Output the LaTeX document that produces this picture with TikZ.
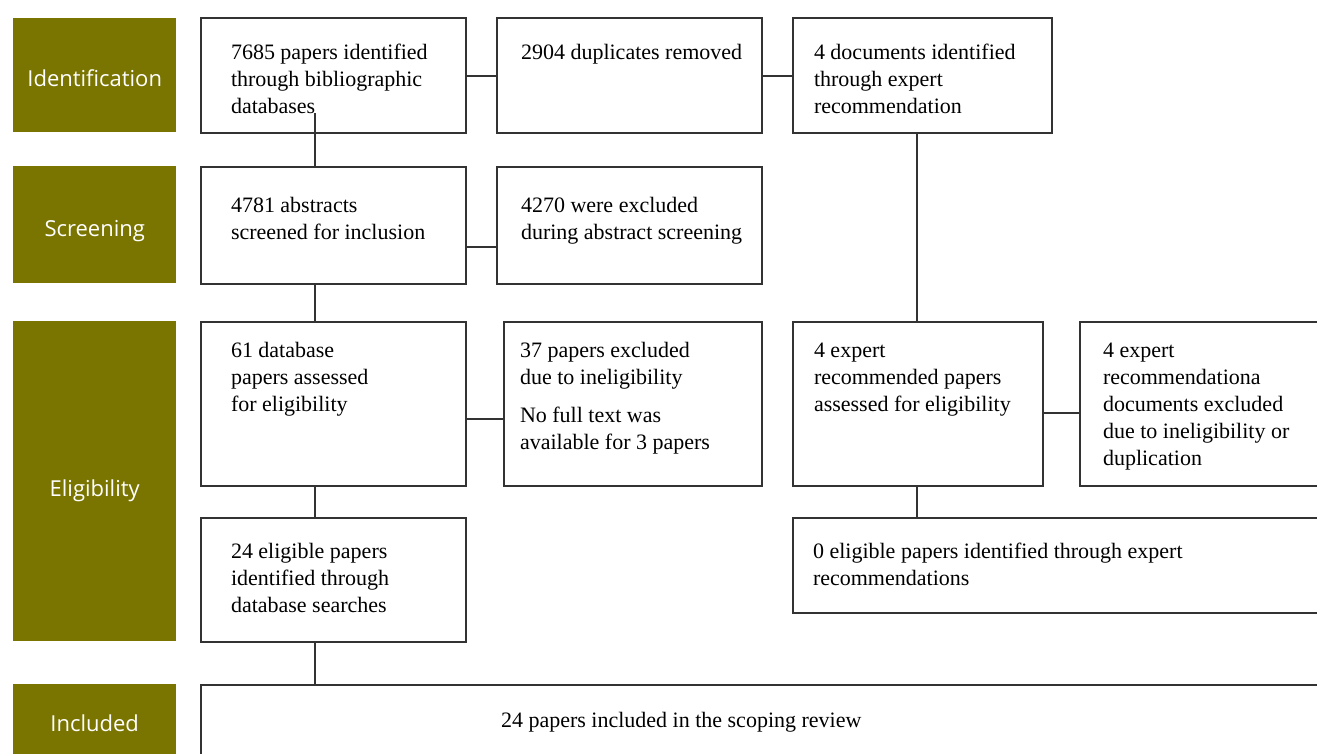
\documentclass[tikz,border=0pt]{standalone}
\usepackage{fontspec}
\setmainfont{Liberation Serif}
\newfontfamily\stagefont{Open Sans}
\definecolor{stagegreen}{RGB}{122,117,0}
\definecolor{linegray}{RGB}{51,51,51}
\newcommand{\boxtext}[5]{\hspace*{#3pt}\parbox[t][#2pt][t]{\dimexpr#1pt-#3pt\relax}{\raggedright\rule{0pt}{#4pt}#5}}
\begin{document}
\begin{tikzpicture}[x=1pt,y=-1pt]

    \tikzset{
      stage/.style={
        fill=stagegreen,
        text=white,
        anchor=north west,
        inner sep=0pt,
        minimum width=163pt,
        font=\stagefont\fontsize{22}{26}\selectfont,
      },
      flowbox/.style={
        draw=linegray,
        line width=2pt,
        anchor=north west,
        inner sep=0pt,
        font=\fontsize{22}{27}\selectfont,
      },
      link/.style={draw=linegray,line width=2pt},
    }
    \useasboundingbox (0,0) rectangle (1317,753);
    \clip (0,0) rectangle (1317,753);

	\node[stage,minimum height=114pt,text height=22pt] (ident) at (13,18) {Identification};
	\node[stage,minimum height=117pt,text height=28pt] (screen) at (13,166) {Screening};
	\node[stage,minimum height=320pt,text height=36pt] (elig) at (13,321) {Eligibility};
	\node[stage,minimum height=78pt] (incl) at (13,684) {Included};

	\node[flowbox] (found) at (200,17) {\boxtext{265}{115}{30}{41}{7685 papers identified\\through bibliographic\\databases}};
	\node[flowbox] (dupl) at (496,17) {\boxtext{265}{115}{24}{41}{2904 duplicates removed}};
	\node[flowbox] (expdocs) at (792,17) {\boxtext{259}{115}{21}{41}{4 documents identified\\through expert\\recommendation}};
	\node[flowbox] (abstr) at (200,166) {\boxtext{265}{117}{30}{45}{4781 abstracts\\screened for inclusion}};
	\node[flowbox] (abexcl) at (496,166) {\boxtext{265}{117}{24}{45}{4270 were excluded\\during abstract screening}};
	\node[flowbox] (dbassess) at (200,321) {\boxtext{265}{164}{30}{35}{61 database\\papers assessed\\for eligibility}};
	\node[flowbox] (dbexcl) at (503,321) {\boxtext{258}{164}{16}{35}{37 papers excluded\\due to ineligibility\par\vspace{11pt}No full text was\\available for 3 papers}};
	\node[flowbox] (expassess) at (792,321) {\boxtext{250}{164}{21}{35}{4 expert\\recommended papers\\assessed for eligibility}};
	\node[flowbox] (expexcl) at (1079,321) {\boxtext{260}{164}{23}{35}{4 expert\\recommendationa\\documents excluded\\due to ineligibility or\\duplication}};
	\node[flowbox] (dbelig) at (200,517) {\boxtext{265}{124}{30}{40}{24 eligible papers\\identified through\\database searches}};
	\node[flowbox] (expelig) at (792,517) {\boxtext{560}{95}{20}{40}{0 eligible papers identified through expert\\recommendations}};
	\node[flowbox] (final) at (200,684) {\boxtext{1150}{90}{300}{42}{24 papers included in the scoping review}};

	\coordinate (left) at (315,0);
	\coordinate (right) at (917,0);
	\coordinate (start) at (315,113);

	\draw[link] (found.east) -- (dupl.west);
	\draw[link] (dupl.east) -- (expdocs.west);
	\draw[link] (start) -- (abstr.north -| left);
	\draw[link] ([yshift=-21.5pt]abstr.east) -- ([yshift=-21.5pt]abexcl.west);
	\draw[link] (abstr.south -| left) -- (dbassess.north -| left);
	\draw[link] (expdocs.south -| right) -- (expassess.north -| right);
	\draw[link] ([yshift=-15pt]dbassess.east) -- ([yshift=-15pt]dbexcl.west);
	\draw[link] ([yshift=-8.5pt]expassess.east) -- ([yshift=-8.5pt]expexcl.west);
	\draw[link] (dbassess.south -| left) -- (dbelig.north -| left);
	\draw[link] (expassess.south -| right) -- (expelig.north -| right);
	\draw[link] (dbelig.south -| left) -- (final.north -| left);

\end{tikzpicture}
\end{document}
